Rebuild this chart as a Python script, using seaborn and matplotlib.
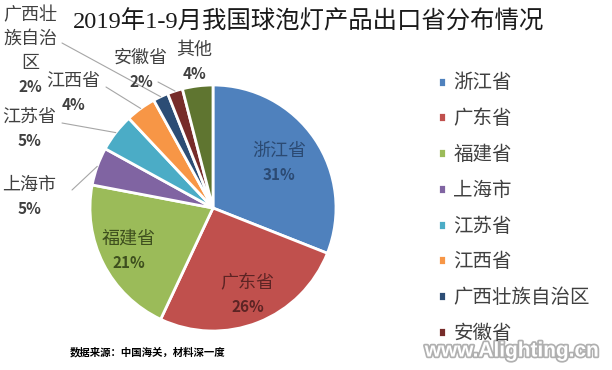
import matplotlib
matplotlib.use("Agg")
import matplotlib.pyplot as plt
import matplotlib.patheffects as pe
import numpy as np
import seaborn as sns

# ---- data ----
provinces = ["浙江省", "广东省", "福建省", "上海市", "江苏省", "江西省",
             "广西壮族自治区", "安徽省", "其他"]
shares = [31, 26, 21, 5, 5, 4, 2, 2, 4]
pie_labels = ["浙江省", "广东省", "福建省", "上海市", "江苏省", "江西省",
              "广西壮\n族自治\n区", "安徽省", "其他"]
colors = ["#4F81BD", "#C0504D", "#9BBB59", "#8064A2", "#4BACC6", "#F79646",
          "#2C4D75", "#772C2A", "#5F7530"]
title = "2019年1-9月我国球泡灯产品出口省分布情况"
source = "数据来源：中国海关，材料深一度"
watermark = "www.Alighting.cn"

sns.set_theme(style="white")
plt.rcParams['font.family'] = ['Noto Sans CJK SC', 'DejaVu Sans']

W, H = 612, 370
fig = plt.figure(figsize=(W / 100, H / 100), dpi=100)
fig.patch.set_facecolor("white")

cx, cy, R = 213, 208, 123
ax = fig.add_axes([(cx - R) / W, (H - cy - R) / H, 2 * R / W, 2 * R / H])
wedges, _ = ax.pie(shares, colors=colors, startangle=90, counterclock=False,
                   wedgeprops=dict(edgecolor="white", linewidth=2))
ax.set_xlim(-1, 1)
ax.set_ylim(-1, 1)
ax.set_aspect("auto")
ax.axis("off")


def px(x, y):
    return (x - cx) / R, (cy - y) / R


def mid(w, r=1.0):
    a = np.deg2rad((w.theta1 + w.theta2) / 2)
    return r * np.cos(a), r * np.sin(a)


# inside labels
inside_col = ["#2B4A73", "#5C2424", "#3E4F1E"]
inside_r = [0.65, 0.76, 0.77]
step = 24 / R
for i in range(3):
    x, y = mid(wedges[i], inside_r[i])
    ax.text(x, y + step / 2, pie_labels[i], ha="center", va="center",
            fontsize=13, color=inside_col[i])
    ax.text(x, y - step / 2, f"{shares[i]}%", ha="center", va="center",
            fontsize=11, fontweight="bold", color=inside_col[i])

# outside labels: (first-line center px, leader start px)
out = {
    3: ((29, 185), (72, 190)),
    4: ((29, 117), (62, 123)),
    5: ((73, 81), (106, 87)),
    6: ((30, 15), (62, 43)),
    7: ((141, 58), (158, 82)),
    8: ((194, 50), None),
}
for i, (lab, start) in out.items():
    lx, ly = px(*lab)
    lines = pie_labels[i].split("\n")
    for k, line in enumerate(lines):
        ax.text(lx, ly - k * step, line, ha="center", va="center",
                fontsize=13, color="#404040", clip_on=False)
    ax.text(lx, ly - len(lines) * step, f"{shares[i]}%", ha="center",
            va="center", fontsize=11, fontweight="bold", color="#404040",
            clip_on=False)
    if start is not None:
        sx, sy = px(*start)
        ex, ey = mid(wedges[i], 1.0)
        ax.plot([sx, ex], [sy, ey], color="#A6A6A6", lw=0.8, clip_on=False)

# legend (first 8 entries visible)
leg = fig.legend(wedges[:8], provinces[:8], loc="upper left",
                 bbox_to_anchor=(420 / W, 1 - 55 / H), frameon=False,
                 fontsize=14, handlelength=0.42, handleheight=0.42,
                 handletextpad=0.4, labelspacing=0.76)
for t in leg.get_texts():
    t.set_color("#404040")

fig.text(308 / W, 1 - 22 / H, title, ha="center", va="center", fontsize=17.6,
         color="#1A1A1A", family=['Liberation Serif', 'Noto Sans CJK SC'])
fig.text(70 / W, 1 - 352 / H, source, ha="left", va="center", fontsize=7.5,
         fontweight="bold", color="black")
fig.text(512 / W, 1 - 351 / H, watermark, ha="center", va="center",
         fontsize=15, fontweight="bold", color="white",
         family=['Liberation Sans'],
         path_effects=[pe.withStroke(linewidth=2.5, foreground="#B0B0B0")])

fig.savefig("out.png", dpi=100)
